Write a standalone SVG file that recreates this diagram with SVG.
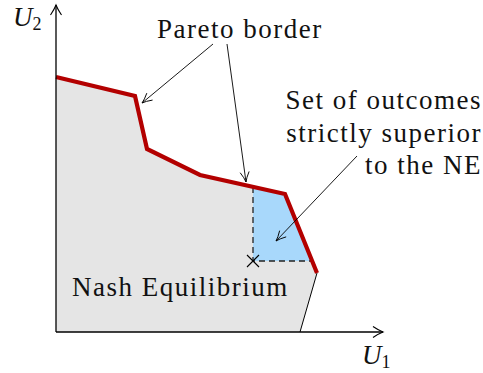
<svg xmlns="http://www.w3.org/2000/svg" width="483" height="373" viewBox="0 0 483 373">
  <defs>
    <style>
      .lbl { font-family: "Liberation Serif", "DejaVu Serif", serif; font-size: 27px; letter-spacing: 1.5px; fill: #111; }
      .math { font-family: "Liberation Serif", "DejaVu Serif", serif; font-style: italic; font-size: 27px; fill: #111; }
      .sub { font-family: "Liberation Serif", "DejaVu Serif", serif; font-size: 18px; fill: #111; font-style: normal; }
      .axis { stroke: #000; stroke-width: 1.3; fill: none; }
      .ann { stroke: #000; stroke-width: 0.9; fill: none; }
    </style>
    <marker id="arr" markerUnits="userSpaceOnUse" markerWidth="16" markerHeight="16" refX="12" refY="8" orient="auto">
      <path d="M2,2.5 Q8,6.5 12,8 Q8,9.5 2,13.5" fill="none" stroke="#000" stroke-width="1.1"/>
    </marker>
    <marker id="arrs" markerUnits="userSpaceOnUse" markerWidth="16" markerHeight="16" refX="12" refY="8" orient="auto">
      <path d="M2,3.5 Q8,7 12,8 Q8,9 2,12.5" fill="none" stroke="#000" stroke-width="0.9"/>
    </marker>
  </defs>

  <g id="feasible-region">
    <polygon points="56,77 135,96 147,149 200,175 285,194 317,273 300,332 56,332" fill="#e5e5e5"/>
    <line x1="317" y1="273" x2="300" y2="332" stroke="#000" stroke-width="1"/>
  </g>

  <g id="superior-set">
    <polygon points="253,187 285,194 312,261 253,261" fill="#a8d8fb"/>
    <path d="M253,187 V261 H312" fill="none" stroke="#222" stroke-width="1.3" stroke-dasharray="6,4"/>
  </g>

  <g id="pareto-border">
    <polyline points="56,77 135,96 147,149 200,175 285,194 317,273" fill="none" stroke="#b30000" stroke-width="4.2" stroke-linejoin="miter"/>
  </g>

  <g id="axes">
    <line class="axis" x1="56" y1="332" x2="56" y2="5" marker-end="url(#arr)"/>
    <line class="axis" x1="56" y1="332" x2="383" y2="332" marker-end="url(#arr)"/>
    <text class="math" x="13" y="26">U<tspan class="sub" dy="4">2</tspan></text>
    <text class="math" x="362" y="364">U<tspan class="sub" dy="4">1</tspan></text>
  </g>

  <g id="nash-equilibrium">
    <path d="M247,255 L259,267 M247,267 L259,255" stroke="#000" stroke-width="1.1"/>
    <text class="lbl" x="72" y="296">Nash Equilibrium</text>
  </g>

  <g id="pareto-label">
    <text class="lbl" x="157" y="38">Pareto border</text>
  </g>

  <g id="superior-label">
    <text class="lbl" x="482" y="109" text-anchor="end">Set of outcomes</text>
    <text class="lbl" x="482" y="142" text-anchor="end">strictly superior</text>
    <text class="lbl" x="482" y="174" text-anchor="end">to the NE</text>
  </g>

  <g id="connectors">
    <line class="ann" x1="213" y1="44" x2="142" y2="103" marker-end="url(#arrs)"/>
    <line class="ann" x1="227" y1="44" x2="246" y2="182" marker-end="url(#arrs)"/>
    <line class="ann" x1="357" y1="156" x2="276" y2="241" marker-end="url(#arrs)"/>
  </g>
</svg>
